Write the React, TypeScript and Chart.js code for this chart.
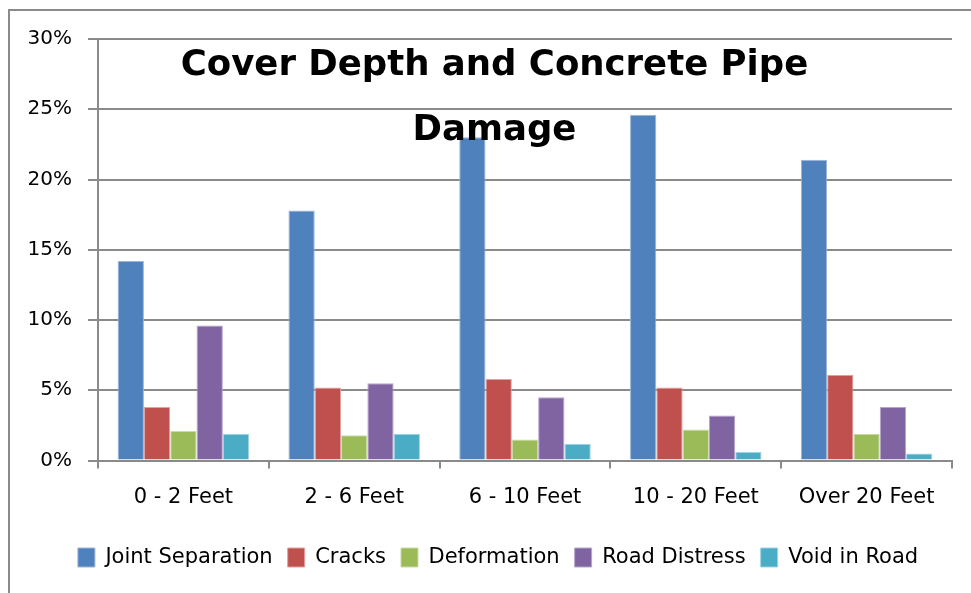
import React, { useEffect, useRef } from "react";
import { Chart, registerables } from "chart.js";

Chart.register(...registerables);

const categories = ["0 - 2 Feet", "2 - 6 Feet", "6 - 10 Feet", "10 - 20 Feet", "Over 20 Feet"];
const seriesNames = ["Joint Separation", "Cracks", "Deformation", "Road Distress", "Void in Road"];
const jointSeparation = [14.2, 17.8, 23.0, 24.6, 21.4];
const cracks = [3.8, 5.2, 5.8, 5.2, 6.1];
const deformation = [2.1, 1.8, 1.5, 2.2, 1.9];
const roadDistress = [9.6, 5.5, 4.5, 3.2, 3.8];
const voidInRoad = [1.9, 1.9, 1.2, 0.6, 0.5];
const yMin = 0;
const yMax = 30;
const yStep = 5;
const titleLines = ["Cover Depth and Concrete Pipe", "Damage"];

const colors = ["#4F81BD", "#C0504D", "#9BBB59", "#8064A2", "#4BACC6"];
const edgeColors = ["#9DB6D9", "#DFA3A1", "#C9DBA8", "#B5A5CB", "#9DD3E2"];
const FONT = "'DejaVu Sans', sans-serif";
const GRID = "#8a8a8a";

const titlePlugin = {
  id: "overlayTitle",
  afterLayout(chart: any) {
    // centre the legend on the whole chart object rather than the padded box
    const lg = chart.legend;
    if (lg) {
      lg.left += 17;
      lg.right += 17;
      if (lg.adjustHitBoxes) lg.adjustHitBoxes();
    }
  },
  afterDraw(chart: any) {
    const ctx = chart.ctx;
    ctx.save();
    ctx.fillStyle = "#000";
    ctx.font = "bold 35.5px " + FONT;
    ctx.textAlign = "center";
    ctx.textBaseline = "alphabetic";
    ctx.fillText(titleLines[0], 484.5, 64);
    ctx.fillText(titleLines[1], 484.5, 129);
    ctx.restore();
  },
};

export default function App() {
  const ref = useRef<HTMLCanvasElement>(null);
  useEffect(() => {
    const values = [jointSeparation, cracks, deformation, roadDistress, voidInRoad];
    const chart = new Chart(ref.current as HTMLCanvasElement, {
      type: "bar",
      data: {
        labels: categories,
        datasets: seriesNames.map((name, i) => ({
          label: name,
          data: values[i],
          backgroundColor: colors[i],
          borderColor: edgeColors[i],
          borderWidth: 1,
          categoryPercentage: 0.77,
          barPercentage: 1,
        })),
      },
      options: {
        animation: false,
        responsive: false,
        devicePixelRatio: 1,
        layout: { padding: { left: 0, right: 34, top: 26, bottom: 29 } },
        plugins: {
          title: { display: false },
          tooltip: { enabled: false },
          legend: {
            position: "bottom",
            labels: {
              boxWidth: 17,
              boxHeight: 19,
              padding: 15,
              color: "#000",
              font: { family: FONT, size: 21 },
            },
          },
        },
        scales: {
          x: {
            offset: true,
            grid: {
              display: true,
              drawOnChartArea: false,
              drawTicks: true,
              tickLength: 8,
              color: GRID,
              lineWidth: 2,
              offset: true,
            },
            border: { display: true, color: GRID, width: 2 },
            ticks: { color: "#000", padding: 16.5, font: { family: FONT, size: 21 }, maxRotation: 0 },
            afterFit: (s: any) => {
              s.height = 71.5;
            },
          },
          y: {
            min: yMin,
            max: yMax,
            ticks: {
              stepSize: yStep,
              color: "#000",
              padding: 16,
              font: { family: FONT, size: 20 },
              callback: (v: any) => v + "%",
            },
            grid: { color: GRID, lineWidth: 2, tickLength: 10, drawTicks: true },
            border: { display: true, color: GRID, width: 2 },
            afterFit: (s: any) => {
              s.width = 88;
            },
          },
        },
      },
      plugins: [titlePlugin],
    });
    return () => chart.destroy();
  }, []);
  return (
    <div
      style={{
        position: "fixed",
        left: 8,
        top: 9,
        width: 980,
        height: 600,
        border: "2px solid #8a8a8a",
        boxSizing: "border-box",
        background: "#fff",
      }}
    >
      <canvas ref={ref} width={976} height={596} style={{ display: "block", width: 976, height: 596 }} />
    </div>
  );
}
